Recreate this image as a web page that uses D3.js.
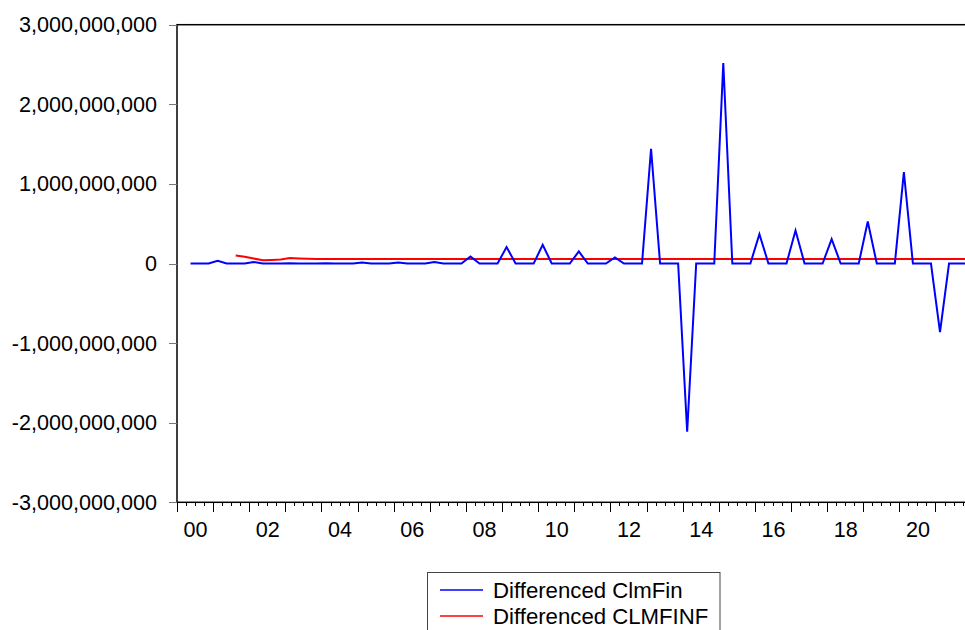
<!DOCTYPE html>
<meta charset="utf-8">
<head>
<title>Differenced ClmFin</title>
<style>
  body { margin: 0; background: #fff; }
  text { font-family: "Liberation Sans", Arial, sans-serif; }
  .axis path, .axis line { shape-rendering: crispEdges; }
</style>
</head>
<body>
<svg width="965" height="630"></svg>
<script src="https://cdn.jsdelivr.net/npm/d3@7/dist/d3.min.js"></script>
<script>

// quarterly data, differenced series start 2000Q2
var startYear = 2000;

// Differenced ClmFin, 2000Q2 .. 2021Q4 (Q1..Q4 per row)
var clmFin = [
          0,        0,        0,   // 2000
  3.4e7,    0,        0,        0,   // 2001
  1.8e7,    0,        0,        0,   // 2002
  4e6,      0,        0,        0,   // 2003
  4e6,      0,        0,        0,   // 2004
  1.3e7,    0,        0,        0,   // 2005
  1.3e7,    0,        0,        0,   // 2006
  1.8e7,    0,        0,        0,   // 2007
  8.8e7,    0,        0,        0,   // 2008
  2.06e8,   0,        0,        0,   // 2009
  2.35e8,   0,        0,        0,   // 2010
  1.51e8,   0,        0,        0,   // 2011
  7.5e7,    0,        0,        0,   // 2012
  1.441e9,  0,        0,        0,   // 2013
  -2.114e9, 0,        0,        0,   // 2014
  2.518e9,  0,        0,        0,   // 2015
  3.69e8,   0,        0,        0,   // 2016
  4.15e8,   0,        0,        0,   // 2017
  3.07e8,   0,        0,        0,   // 2018
  5.28e8,   0,        0,        0,   // 2019
  1.148e9,  0,        0,        0,   // 2020
  -8.62e8,  0,        0,        0    // 2021
];
var clmFinStart = 1;   // quarter index of first value (2000Q2)

// Differenced CLMFINF, 2001Q3 .. 2021Q4
var clmFinf = [
                      1.00e8, 8.5e7,   // 2001
  6.2e7,  4.0e7,  4.5e7,  5.0e7,       // 2002
  6.8e7,  6.4e7,  6.1e7,  5.8e7,       // 2003
  5.6e7,  5.7e7,  5.8e7,  5.8e7,       // 2004
  5.7e7,  5.7e7,  5.7e7,  5.7e7,       // 2005
  5.7e7,  5.7e7,  5.7e7,  5.7e7,       // 2006
  5.7e7,  5.7e7,  5.7e7,  5.7e7,       // 2007
  5.7e7,  5.7e7,  5.7e7,  5.7e7,       // 2008
  5.7e7,  5.7e7,  5.7e7,  5.7e7,       // 2009
  5.7e7,  5.7e7,  5.7e7,  5.7e7,       // 2010
  5.7e7,  5.7e7,  5.7e7,  5.7e7,       // 2011
  5.7e7,  5.7e7,  5.7e7,  5.7e7,       // 2012
  5.7e7,  5.7e7,  5.7e7,  5.7e7,       // 2013
  5.7e7,  5.7e7,  5.7e7,  5.7e7,       // 2014
  5.7e7,  5.7e7,  5.7e7,  5.7e7,       // 2015
  5.7e7,  5.7e7,  5.7e7,  5.7e7,       // 2016
  5.7e7,  5.7e7,  5.7e7,  5.7e7,       // 2017
  5.7e7,  5.7e7,  5.7e7,  5.7e7,       // 2018
  5.7e7,  5.7e7,  5.7e7,  5.7e7,       // 2019
  5.7e7,  5.7e7,  5.7e7,  5.7e7,       // 2020
  5.7e7,  5.7e7,  5.7e7,  5.7e7        // 2021
];
var clmFinfStart = 6;  // 2001Q3

var yTicks = [-3e9, -2e9, -1e9, 0, 1e9, 2e9, 3e9];
var xLabelYears = [2000, 2002, 2004, 2006, 2008, 2010, 2012, 2014, 2016, 2018, 2020];
var nQuarters = 88;    // 2000Q1 .. 2021Q4

var legendNames = ["Differenced ClmFin", "Differenced CLMFINF"];
var colors = ["#0000ff", "#ff0000"];

var svg = d3.select("svg");

// plot box (named so they don't clash with window.top etc.)
var plotL = 177, plotT = 24.7, plotB = 502.3, plotR = 971.6;

var x = d3.scaleLinear().domain([0, nQuarters]).range([plotL, plotR]);
var y = d3.scaleLinear().domain([-3e9, 3e9]).range([plotB, plotT]);

// frame
svg.append("rect")
    .attr("x", plotL).attr("y", plotT)
    .attr("width", plotR - plotL).attr("height", plotB - plotT)
    .attr("fill", "none")
    .attr("stroke", "#000")
    .attr("stroke-width", 1.5);

// y axis, plain hyphen for negatives like the original
var fmt = d3.format(",");
var yAxis = svg.append("g")
    .attr("class", "axis")
    .attr("transform", "translate(" + plotL + ",0)")
    .call(d3.axisLeft(y)
        .tickValues(yTicks)
        .tickSize(8)
        .tickPadding(12)
        .tickFormat(function(d) { return fmt(d).replace("\u2212", "-"); }));
yAxis.select(".domain").remove();
yAxis.selectAll("line").attr("stroke", "#777");
yAxis.selectAll("text")
    .attr("fill", "#000")
    .style("font-size", "21.6px");

// x axis: minor quarter ticks, major year ticks, labels in the middle of each year
var xMinor = svg.append("g")
    .attr("class", "axis")
    .attr("transform", "translate(0," + plotB + ")")
    .call(d3.axisBottom(x)
        .tickValues(d3.range(0, nQuarters + 1))
        .tickSize(4)
        .tickFormat(""));
xMinor.select(".domain").remove();

var xMajor = svg.append("g")
    .attr("class", "axis")
    .attr("transform", "translate(0," + plotB + ")")
    .call(d3.axisBottom(x)
        .tickValues(d3.range(0, nQuarters + 1, 4))
        .tickSize(10)
        .tickFormat(""));
xMajor.select(".domain").remove();

var xLabels = svg.append("g")
    .attr("class", "axis")
    .attr("transform", "translate(0," + plotB + ")")
    .call(d3.axisBottom(x)
        .tickValues(xLabelYears.map(function(yr) { return (yr - startYear) * 4 + 2; }))
        .tickSize(0)
        .tickPadding(19)
        .tickFormat(function(d) {
            var yr = startYear + Math.floor(d / 4);
            return d3.format("02")(yr % 100);
        }));
xLabels.select(".domain").remove();
xLabels.selectAll("text")
    .attr("fill", "#000")
    .style("font-size", "21.6px");

// lines
svg.append("clipPath").attr("id", "plot-clip")
    .append("rect")
    .attr("x", plotL).attr("y", plotT)
    .attr("width", plotR - plotL).attr("height", plotB - plotT);

function series(values, start) {
    return values.map(function(v, i) { return { q: start + i, v: v }; });
}

var line = d3.line()
    .x(function(d) { return x(d.q + 0.5); })
    .y(function(d) { return y(d.v); });

var plot = svg.append("g").attr("clip-path", "url(#plot-clip)");

plot.append("path")
    .datum(series(clmFinf, clmFinfStart))
    .attr("fill", "none")
    .attr("stroke", colors[1])
    .attr("stroke-width", 2)
    .attr("d", line);

plot.append("path")
    .datum(series(clmFin, clmFinStart))
    .attr("fill", "none")
    .attr("stroke", colors[0])
    .attr("stroke-width", 2)
    .attr("d", line);

// legend
var legend = svg.append("g");
legend.append("rect")
    .attr("x", 427.5).attr("y", 572.5)
    .attr("width", 292.5).attr("height", 80)
    .attr("fill", "#fff")
    .attr("stroke", "#444")
    .attr("stroke-width", 1);

legendNames.forEach(function(name, i) {
    var ly = 590 + i * 26;
    legend.append("line")
        .attr("x1", 440).attr("x2", 483)
        .attr("y1", ly).attr("y2", ly)
        .attr("stroke", colors[i])
        .attr("stroke-width", 1.5);
    legend.append("text")
        .attr("x", 493)
        .attr("y", ly)
        .attr("dy", "0.35em")
        .style("font-size", "22.2px")
        .text(name);
});

</script>
</body>
</html>
